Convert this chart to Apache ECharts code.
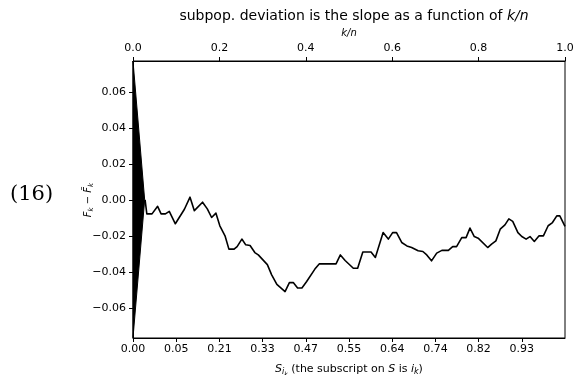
<!DOCTYPE html>
<html>
<head>
<meta charset="utf-8">
<script src="https://cdn.jsdelivr.net/npm/echarts@6/dist/echarts.min.js"></script>
<style>html,body{margin:0;padding:0;background:#fff}#c{width:576px;height:375px}</style>
</head>
<body>
<div id="c"></div>
<script>
// k/n positions and deviation values of the cumulative line
const lineX = [0.028,0.032,0.044,0.057,0.065,0.075,0.084,0.098,0.119,0.132,0.142,0.161,0.172,0.182,0.192,0.201,0.213,0.222,0.234,0.241,0.252,0.261,0.271,0.282,0.290,0.311,0.321,0.333,0.352,0.362,0.371,0.381,0.391,0.402,0.421,0.431,0.470,0.480,0.491,0.510,0.520,0.532,0.551,0.561,0.579,0.591,0.601,0.610,0.622,0.634,0.645,0.660,0.671,0.680,0.691,0.703,0.715,0.730,0.740,0.749,0.761,0.771,0.780,0.790,0.799,0.821,0.830,0.840,0.850,0.861,0.870,0.879,0.891,0.900,0.910,0.919,0.929,0.940,0.950,0.961,0.971,0.981,0.988,1.000];
const lineY = [0.000,-0.0078,-0.0078,-0.0036,-0.0078,-0.0078,-0.0064,-0.0133,-0.0052,0.0015,-0.006,-0.0013,-0.005,-0.0098,-0.0074,-0.0144,-0.020,-0.0274,-0.0274,-0.026,-0.0218,-0.025,-0.0254,-0.0293,-0.0306,-0.036,-0.0417,-0.047,-0.051,-0.046,-0.046,-0.049,-0.049,-0.0454,-0.0385,-0.0356,-0.0356,-0.0306,-0.0337,-0.038,-0.038,-0.029,-0.029,-0.032,-0.0182,-0.0218,-0.0182,-0.0182,-0.0237,-0.0256,-0.0265,-0.0283,-0.0287,-0.0306,-0.0339,-0.0296,-0.0281,-0.0281,-0.026,-0.026,-0.021,-0.021,-0.0157,-0.0204,-0.0213,-0.0265,-0.0246,-0.0228,-0.0163,-0.0139,-0.0106,-0.012,-0.0182,-0.0204,-0.0218,-0.0204,-0.0231,-0.020,-0.020,-0.0144,-0.0126,-0.0089,-0.0089,-0.0147];
// filled wedge at the left edge
const triX = [0, 0.027, 0];
const triY = [0.0772, 0, -0.0767];
// tick labels
const bottomTickPos = [0,0.1,0.2,0.3,0.4,0.5,0.6,0.7,0.8,0.9];
const bottomTickLabels = ['0.00','0.05','0.21','0.33','0.47','0.55','0.64','0.74','0.82','0.93'];
const yTicks = [-0.06,-0.04,-0.02,0,0.02,0.04,0.06];
const yMin = -0.0768, yMax = 0.0772;

const chart = echarts.init(document.getElementById('c'), null, {renderer:'canvas'});
const font = 'DejaVu Sans';
const tickFs = 11;
chart.setOption({
  animation: false,
  backgroundColor: '#fff',
  title: {
    text: 'subpop. deviation is the slope as a function of {i|k/n}',
    left: 349, top: 4, textAlign: 'center',
    textStyle: {fontFamily: font, fontSize: 14, fontWeight: 'normal', color: '#000',
      rich: {i: {fontFamily: font, fontSize: 14, fontStyle: 'italic', color: '#000'}}}
  },
  grid: {left: 133, right: 11, top: 61, bottom: 37, show: true, borderColor: '#000', borderWidth: 1,
    backgroundColor: 'transparent', containLabel: false, outerBoundsMode: 'none'},
  xAxis: [{
    type: 'value', min: 0, max: 1, position: 'bottom',
    axisLine: {show: true, onZero: false, lineStyle: {color: '#000', width: 1}},
    axisTick: {show: true, length: 4, lineStyle: {color: '#000'}, customValues: bottomTickPos},
    axisLabel: {color: '#000', fontFamily: font, fontSize: tickFs, margin: 6, customValues: bottomTickPos,
      formatter: v => bottomTickLabels[Math.round(v * 10)] || ''},
    splitLine: {show: false},
    name: '{i|S}{s|i}{ss|k} (the subscript on {i|S} is {i|i}{s2|k})',
    nameLocation: 'middle', nameGap: 23,
    nameTextStyle: {fontFamily: font, fontSize: 11, color: '#000',
      rich: {
        i: {fontFamily: font, fontSize: 11, fontStyle: 'italic', color: '#000'},
        s: {fontFamily: font, fontSize: 8, fontStyle: 'italic', color: '#000', padding: [6,0,0,0]},
        ss: {fontFamily: font, fontSize: 6, fontStyle: 'italic', color: '#000', padding: [10,0,0,0]},
        s2: {fontFamily: font, fontSize: 8, fontStyle: 'italic', color: '#000', padding: [6,0,0,0]}
      }}
  }, {
    type: 'value', min: 0, max: 1, interval: 0.2, position: 'top',
    axisLine: {show: true, onZero: false, lineStyle: {color: '#000', width: 1}},
    axisTick: {show: true, length: 4, lineStyle: {color: '#000'}},
    axisLabel: {color: '#000', fontFamily: font, fontSize: tickFs, margin: 7, formatter: v => v.toFixed(1)},
    splitLine: {show: false},
    name: 'k/n', nameLocation: 'middle', nameGap: 23,
    nameTextStyle: {fontFamily: font, fontSize: 10, fontStyle: 'italic', color: '#000'}
  }],
  yAxis: [{
    type: 'value', min: yMin, max: yMax,
    axisLine: {show: true, onZero: false, lineStyle: {color: '#000', width: 1}},
    axisTick: {show: true, length: 4, lineStyle: {color: '#000'}, customValues: yTicks},
    axisLabel: {color: '#000', fontFamily: font, fontSize: tickFs, margin: 7, customValues: yTicks,
      formatter: v => (v < -1e-9 ? '\u2212' : '') + Math.abs(v).toFixed(2)},
    splitLine: {show: false}
  }],
  graphic: [{
    type: 'text', x: 88, y: 200, rotation: Math.PI / 2,
    style: {
      text: '{i|F}{s|k} \u2212 {i|F\u0303}{s|k}',
      align: 'center', verticalAlign: 'middle',
      fontFamily: font, fontSize: 10, fill: '#000',
      rich: {
        i: {fontFamily: font, fontSize: 10, fontStyle: 'italic', color: '#000'},
        s: {fontFamily: font, fontSize: 7, fontStyle: 'italic', color: '#000', padding: [6,0,0,0]}
      }
    }
  }, {
    type: 'text', x: 10, y: 195,
    style: {text: '(16)', fontFamily: 'DejaVu Serif', fontSize: 21, fill: '#000', align: 'left', verticalAlign: 'middle'}
  }],
  series: [{
    type: 'custom', xAxisIndex: 0, yAxisIndex: 0,
    data: triX.map((x, i) => [x, triY[i]]),
    renderItem: (params, api) => {
      if (params.dataIndex !== 0) return null;
      const pts = triX.map((x, i) => api.coord([x, triY[i]]));
      return {type: 'polygon', shape: {points: pts}, style: {fill: '#000', stroke: '#000', lineWidth: 1}};
    },
    z: 3
  }, {
    type: 'line', xAxisIndex: 0, yAxisIndex: 0,
    data: lineX.map((x, i) => [x, lineY[i]]),
    showSymbol: false, symbol: 'none',
    lineStyle: {color: '#000', width: 1.6, join: 'round'},
    z: 4
  }]
});
</script>
</body>
</html>
